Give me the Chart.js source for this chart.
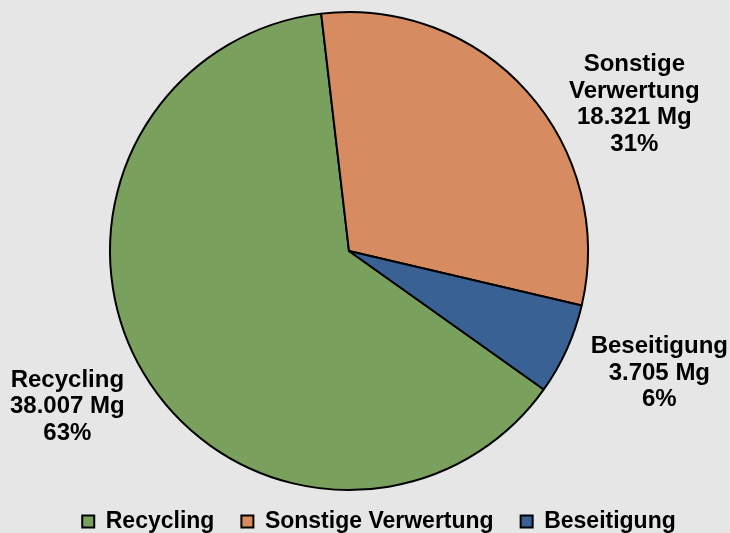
<!DOCTYPE html>
<html>
<head>
<meta charset="utf-8">
<script src="https://cdn.jsdelivr.net/npm/chart.js@4.4.1/dist/chart.umd.min.js"></script>
<style>
  html, body { margin: 0; padding: 0; background: #E6E6E6; }
  #wrap { width: 730px; height: 533px; }
</style>
</head>
<body>
<div id="wrap"><canvas id="pieChart" width="730" height="533"></canvas></div>
<script>
const categories = ['Recycling', 'Sonstige Verwertung', 'Beseitigung'];
const tonnes = [38007, 18321, 3705];
const sliceColors = ['#7AA05E', '#D68B61', '#3A6193'];
// label text split over lines, as in the original
const labelNames = [['Recycling'], ['Sonstige', 'Verwertung'], ['Beseitigung']];

const total = tonnes.reduce((a, b) => a + b, 0);

// 38007 -> "38.007"
function fmtDe(n) {
  return String(n).replace(/\B(?=(\d{3})+(?!\d))/g, '.');
}

// outside labels, block centre = slice edge at mid angle + offset
const outsideLabels = {
  id: 'outsideLabels',
  afterDatasetsDraw(chart, args, opts) {
    const ctx = chart.ctx;
    const meta = chart.getDatasetMeta(0);
    ctx.save();
    ctx.font = 'bold ' + opts.size + 'px "Liberation Sans", Arial, sans-serif';
    ctx.fillStyle = '#000';
    ctx.textAlign = 'center';
    ctx.textBaseline = 'middle';
    meta.data.forEach((arc, i) => {
      const mid = (arc.startAngle + arc.endAngle) / 2;
      const ex = arc.x + Math.cos(mid) * arc.outerRadius;
      const ey = arc.y + Math.sin(mid) * arc.outerRadius;
      const cx = ex + opts.offsets[i][0];
      const cy = ey + opts.offsets[i][1];
      const pct = Math.round(tonnes[i] / total * 100);
      const lines = labelNames[i].concat([fmtDe(tonnes[i]) + ' Mg', pct + '%']);
      const top = cy - (lines.length - 1) * opts.lineHeight / 2;
      lines.forEach((t, k) => ctx.fillText(t, cx, top + k * opts.lineHeight));
    });
    ctx.restore();
  }
};

// nudge the legend so it sits like the original
const legendShift = {
  id: 'legendShift',
  afterLayout(chart, args, opts) {
    const lg = chart.legend;
    lg.left += opts.dx; lg.right += opts.dx;
    lg.top += opts.dy; lg.bottom += opts.dy;
  }
};

new Chart(document.getElementById('pieChart'), {
  type: 'pie',
  data: {
    labels: categories,
    datasets: [{
      data: tonnes,
      backgroundColor: sliceColors,
      borderColor: '#000',
      borderWidth: 2,
    }]
  },
  options: {
    responsive: false,
    animation: false,
    rotation: 125.4,
    layout: { padding: { top: 11, left: 0, right: 32, bottom: -18 } },
    plugins: {
      tooltip: { enabled: false },
      legend: {
        position: 'bottom',
        labels: {
          boxWidth: 12,
          boxHeight: 12,
          padding: 27,
          color: '#000',
          font: { family: '"Liberation Sans", Arial, sans-serif', size: 23, weight: 'bold' },
        }
      },
      outsideLabels: {
        size: 24,
        lineHeight: 26.5,
        offsets: [[-76, 34], [107, 12.5], [92.5, 24]],
      },
      legendShift: { dx: 30, dy: -8 },
    }
  },
  plugins: [outsideLabels, legendShift]
});
</script>
</body>
</html>
